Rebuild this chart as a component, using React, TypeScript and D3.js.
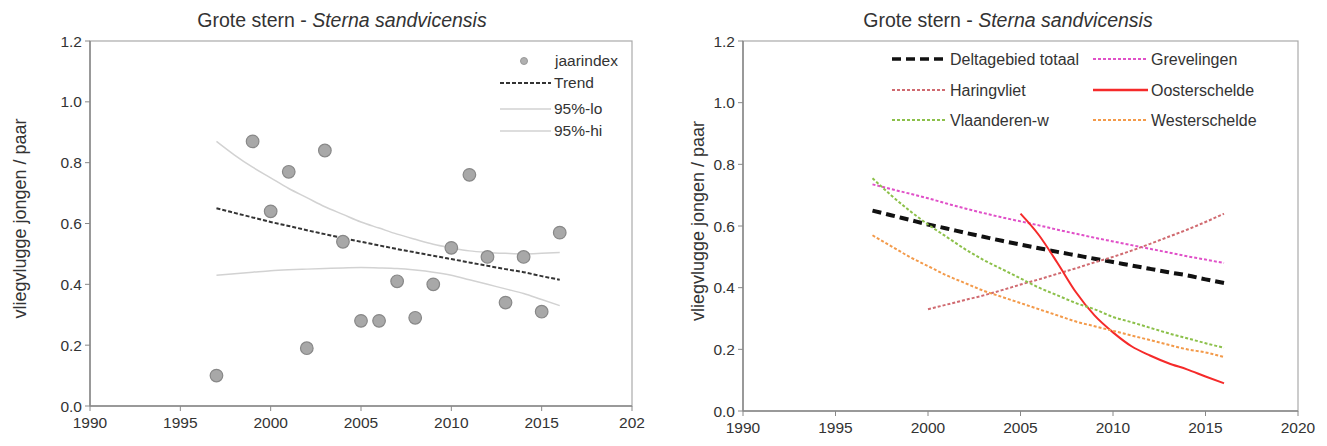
import React from "react";
import * as d3 from "d3";

const years = [1997, 1998, 1999, 2000, 2001, 2002, 2003, 2004, 2005, 2006, 2007, 2008, 2009, 2010, 2011, 2012, 2013, 2014, 2015, 2016];
const jaarYears = [1997, 1999, 2000, 2001, 2002, 2003, 2004, 2005, 2006, 2007, 2008, 2009, 2010, 2011, 2012, 2013, 2014, 2015, 2016];
const jaarindex = [0.10, 0.87, 0.64, 0.77, 0.19, 0.84, 0.54, 0.28, 0.28, 0.41, 0.29, 0.40, 0.52, 0.76, 0.49, 0.34, 0.49, 0.31, 0.57];
const trend = [0.65, 0.635, 0.62, 0.605, 0.592, 0.578, 0.565, 0.552, 0.54, 0.528, 0.516, 0.505, 0.494, 0.483, 0.472, 0.461, 0.45, 0.44, 0.427, 0.415];
const hi95 = [0.87, 0.825, 0.785, 0.75, 0.715, 0.685, 0.655, 0.63, 0.605, 0.585, 0.565, 0.548, 0.532, 0.52, 0.51, 0.505, 0.502, 0.50, 0.502, 0.505];
const lo95 = [0.43, 0.435, 0.44, 0.445, 0.448, 0.45, 0.452, 0.454, 0.455, 0.454, 0.452, 0.447, 0.44, 0.43, 0.415, 0.40, 0.385, 0.37, 0.35, 0.33];

const grevelingen = [0.735, 0.72, 0.705, 0.69, 0.673, 0.657, 0.642, 0.628, 0.615, 0.602, 0.588, 0.575, 0.562, 0.55, 0.538, 0.526, 0.514, 0.502, 0.491, 0.48];
const haringYears = [2000, 2001, 2002, 2003, 2004, 2005, 2006, 2007, 2008, 2009, 2010, 2011, 2012, 2013, 2014, 2015, 2016];
const haringvliet = [0.33, 0.345, 0.36, 0.375, 0.392, 0.41, 0.427, 0.445, 0.463, 0.482, 0.50, 0.52, 0.542, 0.565, 0.588, 0.613, 0.64];
const oosterYears = [2005, 2006, 2007, 2008, 2009, 2010, 2011, 2012, 2013, 2014, 2015, 2016];
const oosterschelde = [0.64, 0.57, 0.48, 0.385, 0.31, 0.255, 0.21, 0.18, 0.155, 0.135, 0.112, 0.09];
const vlaanderen = [0.755, 0.70, 0.65, 0.605, 0.565, 0.525, 0.49, 0.46, 0.43, 0.40, 0.375, 0.35, 0.33, 0.305, 0.288, 0.27, 0.252, 0.236, 0.22, 0.205];
const westerschelde = [0.57, 0.535, 0.50, 0.47, 0.44, 0.415, 0.39, 0.37, 0.35, 0.33, 0.31, 0.29, 0.275, 0.26, 0.245, 0.23, 0.215, 0.20, 0.19, 0.175];

const xTicks = [1990, 1995, 2000, 2005, 2010, 2015, 2020];
const yTicks = [0, 0.2, 0.4, 0.6, 0.8, 1.0, 1.2];

const FONT = "'Liberation Sans', Arial, sans-serif";
const TXT = "#333";

type Panel = { x0: number; x1: number; y0: number; y1: number; cx: number; ylabX: number; lastLabel: string };

function Axes({ p, x, y }: { p: Panel; x: d3.ScaleLinear<number, number>; y: d3.ScaleLinear<number, number> }) {
  return (
    <g fontFamily={FONT} fill={TXT}>
      <rect x={p.x0} y={p.y0} width={p.x1 - p.x0} height={p.y1 - p.y0} fill="none" stroke="#aaa" strokeWidth={1.2} />
      <line x1={p.x0} x2={p.x0} y1={p.y0} y2={p.y1} stroke="#888" strokeWidth={1.5} />
      <line x1={p.x0} x2={p.x1} y1={p.y1} y2={p.y1} stroke="#888" strokeWidth={1.5} />
      {yTicks.map((t) => (
        <g key={t}>
          <line x1={p.x0 - 5} x2={p.x0} y1={y(t)} y2={y(t)} stroke="#888" />
          <text x={p.x0 - 8} y={y(t)} dy="0.36em" textAnchor="end" fontSize={15.5}>{d3.format(".1f")(t)}</text>
        </g>
      ))}
      {xTicks.map((t, i) => (
        <g key={t}>
          <line x1={x(t)} x2={x(t)} y1={p.y1} y2={p.y1 + 5} stroke="#888" />
          <text x={x(t)} y={p.y1 + 22} textAnchor="middle" fontSize={15.5}>{i === xTicks.length - 1 ? p.lastLabel : String(t)}</text>
        </g>
      ))}
      <text x={p.cx} y={27} textAnchor="middle" fontSize={19.5}>
        Grote stern - <tspan fontStyle="italic">Sterna sandvicensis</tspan>
      </text>
      <text transform={`translate(${p.ylabX},${(p.y0 + p.y1) / 2 - 5}) rotate(-90)`} textAnchor="middle" fontSize={18}>
        vliegvlugge jongen / paar
      </text>
    </g>
  );
}

export default function App() {
  const pL: Panel = { x0: 90, x1: 632, y0: 41, y1: 406, cx: 342, ylabX: 26, lastLabel: "202" };
  const pR: Panel = { x0: 743, x1: 1298, y0: 41, y1: 411, cx: 1008, ylabX: 704, lastLabel: "2020" };
  const xL = d3.scaleLinear().domain([1990, 2020]).range([pL.x0, pL.x1]);
  const yL = d3.scaleLinear().domain([0, 1.2]).range([pL.y1, pL.y0]);
  const xR = d3.scaleLinear().domain([1990, 2020]).range([pR.x0, pR.x1]);
  const yR = d3.scaleLinear().domain([0, 1.2]).range([pR.y1, pR.y0]);

  const lineL = (xs: number[], vs: number[]) =>
    d3.line<number>().x((_, i) => xL(xs[i])).y((v) => yL(v)).curve(d3.curveMonotoneX)(vs) || "";
  const lineR = (xs: number[], vs: number[]) =>
    d3.line<number>().x((_, i) => xR(xs[i])).y((v) => yR(v)).curve(d3.curveMonotoneX)(vs) || "";

  const series = [
    { name: "Deltagebied totaal", xs: years, vs: trend, color: "#111", w: 4, dash: "9,5" },
    { name: "Grevelingen", xs: years, vs: grevelingen, color: "#e050c8", w: 2, dash: "3,2" },
    { name: "Haringvliet", xs: haringYears, vs: haringvliet, color: "#d06a70", w: 2, dash: "3,2" },
    { name: "Oosterschelde", xs: oosterYears, vs: oosterschelde, color: "#f52a2a", w: 2, dash: "" },
    { name: "Vlaanderen-w", xs: years, vs: vlaanderen, color: "#8cc04a", w: 2, dash: "3,2" },
    { name: "Westerschelde", xs: years, vs: westerschelde, color: "#f39a4a", w: 2, dash: "3,2" },
  ];
  const legCols = [892, 1093];
  const legRows = [59, 90, 120];

  return (
    <svg width={1327} height={446} style={{ position: "absolute", left: 0, top: 0, background: "#fff" }}>
      <rect width={1327} height={446} fill="#fff" />
      {/* Left panel */}
      <Axes p={pL} x={xL} y={yL} />
      <path d={lineL(years, hi95)} fill="none" stroke="#d2d2d2" strokeWidth={1.5} />
      <path d={lineL(years, lo95)} fill="none" stroke="#d2d2d2" strokeWidth={1.5} />
      <path d={lineL(years, trend)} fill="none" stroke="#333" strokeWidth={2} strokeDasharray="4,2" />
      {jaarindex.map((v, i) => (
        <circle key={i} cx={xL(jaarYears[i])} cy={yL(v)} r={6.3} fill="#a8a8a8" stroke="#888" strokeWidth={1.2} />
      ))}
      <g fontFamily={FONT} fontSize={15.5} fill={TXT}>
        <circle cx={524} cy={61} r={3.5} fill="#b0b0b0" stroke="#999" />
        <text x={555} y={61} dy="0.35em">jaarindex</text>
        <line x1={500} x2={551} y1={83} y2={83} stroke="#333" strokeWidth={2} strokeDasharray="4,2" />
        <text x={554} y={83} dy="0.35em">Trend</text>
        <line x1={500} x2={551} y1={109} y2={109} stroke="#d2d2d2" strokeWidth={1.5} />
        <text x={554} y={109} dy="0.35em">95%-lo</text>
        <line x1={500} x2={551} y1={131} y2={131} stroke="#d2d2d2" strokeWidth={1.5} />
        <text x={554} y={131} dy="0.35em">95%-hi</text>
      </g>

      {/* Right panel */}
      <Axes p={pR} x={xR} y={yR} />
      {series.map((s) => (
        <path key={s.name} d={lineR(s.xs, s.vs)} fill="none" stroke={s.color} strokeWidth={s.w} strokeDasharray={s.dash || undefined} />
      ))}
      <g fontFamily={FONT} fontSize={16} fill={TXT}>
        {series.map((s, i) => {
          const cx = legCols[i % 2];
          const cy = legRows[Math.floor(i / 2)];
          return (
            <g key={s.name}>
              <line x1={cx} x2={cx + 55} y1={cy} y2={cy} stroke={s.color} strokeWidth={s.w === 4 ? 3.5 : s.dash ? 2 : 2.5} strokeDasharray={s.dash || undefined} />
              <text x={cx + 58} y={cy} dy="0.35em">{s.name}</text>
            </g>
          );
        })}
      </g>
    </svg>
  );
}
